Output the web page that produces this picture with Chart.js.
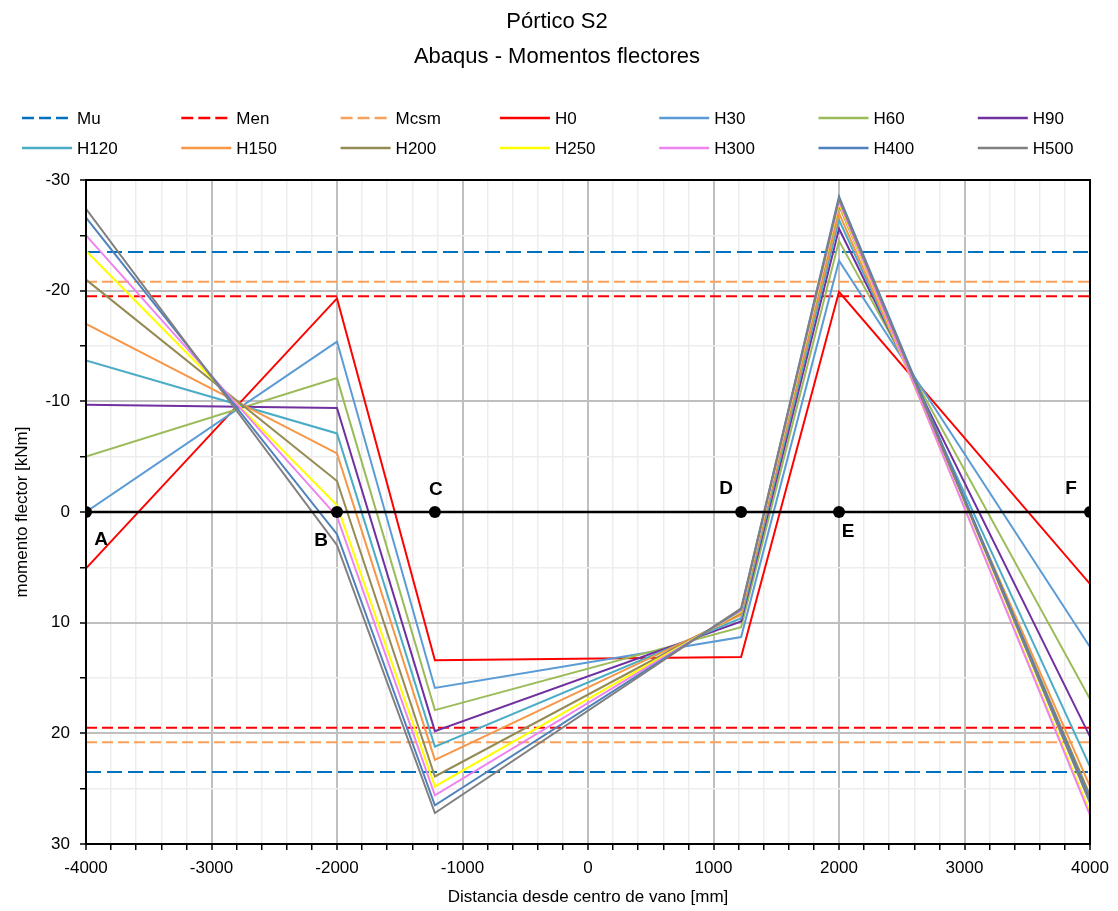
<!DOCTYPE html>
<html>
<head>
<meta charset="utf-8">
<title>Pórtico S2 - Abaqus - Momentos flectores</title>
<script src="https://cdn.jsdelivr.net/npm/chart.js@4.4.1/dist/chart.umd.min.js"></script>
<style>
  html, body { margin: 0; padding: 0; background: #ffffff; }
  #wrap { position: relative; width: 1118px; height: 911px; }
</style>
</head>
<body>
<div id="wrap"><canvas id="grafico" width="1118" height="911"></canvas></div>
<script>
// Secciones del pórtico (distancia desde centro de vano, mm)
const posiciones = [-4000, -2000, -1220, 1220, 2000, 4000];
const nombresPuntos = ['A', 'B', 'C', 'D', 'E', 'F'];

// Momentos flectores [kNm] en cada sección, por nivel de carga
const H0   = [5.1, -19.3, 13.4, 13.1, -19.9, 6.5];
const H30  = [0.0, -15.4, 15.9, 11.3, -22.7, 12.2];
const H60  = [-5.0, -12.1, 17.9, 10.4, -24.5, 16.9];
const H90  = [-9.7, -9.4, 19.8, 9.9, -25.6, 20.3];
const H120 = [-13.7, -7.1, 21.2, 9.6, -26.4, 23.0];
const H150 = [-17.0, -5.3, 22.4, 9.3, -27.0, 24.8];
const H200 = [-21.0, -2.8, 23.9, 9.1, -27.7, 25.6];
const H250 = [-23.6, -0.6, 24.8, 9.0, -27.9, 27.1];
const H300 = [-25.0, 0.4, 25.6, 8.9, -28.1, 27.4];
const H400 = [-26.6, 2.0, 26.5, 8.8, -28.5, 26.0];
const H500 = [-27.4, 3.0, 27.2, 8.7, -28.3, 26.3];

// Momentos resistentes [kNm] (se dibujan con signo + y -)
const Mu = 23.5;
const Men = 19.5;
const Mcsm = 20.8;

// Ejes
const ejeX = [-4000, 4000];
const ejeY = [-30, 30];

const FUENTE = "'Liberation Sans', Arial, sans-serif";

function serie(valores) {
  return posiciones.map((x, i) => ({ x: x, y: valores[i] }));
}
function limite(m) {
  return [
    { x: ejeX[0], y: -m }, { x: ejeX[1], y: -m },
    { x: ejeX[1], y: null },
    { x: ejeX[0], y: m }, { x: ejeX[1], y: m }
  ];
}

const curvas = [
  { label: 'H0',   data: H0,   color: '#ff0000' },
  { label: 'H30',  data: H30,  color: '#5b9bd5' },
  { label: 'H60',  data: H60,  color: '#9bbb59' },
  { label: 'H90',  data: H90,  color: '#7030a0' },
  { label: 'H120', data: H120, color: '#4bacc6' },
  { label: 'H150', data: H150, color: '#f79646' },
  { label: 'H200', data: H200, color: '#948a54' },
  { label: 'H250', data: H250, color: '#ffff00' },
  { label: 'H300', data: H300, color: '#ee82ee' },
  { label: 'H400', data: H400, color: '#4f81bd' },
  { label: 'H500', data: H500, color: '#808080' }
];

const limites = [
  { label: 'Mu',   valor: Mu,   color: '#0070c0', dash: [15, 6] },
  { label: 'Men',  valor: Men,  color: '#ff0000', dash: [11, 5] },
  { label: 'Mcsm', valor: Mcsm, color: '#f9a15a', dash: [11, 5] }
];

const datasets = [];
limites.forEach((l, i) => {
  datasets.push({
    label: l.label, data: limite(l.valor), borderColor: l.color, backgroundColor: l.color,
    borderWidth: 2, borderDash: l.dash, pointRadius: 0, spanGaps: false,
    order: 100 - i, enLeyenda: true
  });
});
curvas.forEach((c, i) => {
  datasets.push({
    label: c.label, data: serie(c.data), borderColor: c.color, backgroundColor: c.color,
    borderWidth: 2, pointRadius: 0, order: 50 - i, enLeyenda: true
  });
});
// Línea del eje de la estructura con los puntos A-F
datasets.push({
  label: 'eje', data: posiciones.map(x => ({ x: x, y: 0 })), borderColor: '#000000',
  backgroundColor: '#000000', borderWidth: 2.5, pointRadius: 6, pointBackgroundColor: '#000000',
  pointBorderWidth: 0, order: 0, enLeyenda: false
});

// Desplazamiento de cada etiqueta respecto a su punto (px)
const desplEtiquetas = [[15, 28], [-16, 29], [1, -22], [-15, -23], [9, 20], [-19, -23]];

const decoracion = {
  id: 'decoracion',
  afterDatasetsDraw(chart) {
    const ctx = chart.ctx;
    const a = chart.chartArea;
    const sx = chart.scales.x, sy = chart.scales.y;
    ctx.save();
    // marco del área de trazado
    ctx.strokeStyle = '#000000';
    ctx.lineWidth = 2;
    ctx.strokeRect(a.left, a.top, a.right - a.left, a.bottom - a.top);
    // etiquetas de los puntos
    ctx.fillStyle = '#000000';
    ctx.font = 'bold 19px ' + FUENTE;
    ctx.textAlign = 'center';
    ctx.textBaseline = 'middle';
    posiciones.forEach((x, i) => {
      const px = sx.getPixelForValue(x), py = sy.getPixelForValue(0);
      ctx.fillText(nombresPuntos[i], px + desplEtiquetas[i][0], py + desplEtiquetas[i][1]);
    });
    ctx.restore();
  },
  afterDraw(chart) {
    const ctx = chart.ctx;
    ctx.save();
    // título
    ctx.fillStyle = '#000000';
    ctx.textAlign = 'center';
    ctx.textBaseline = 'middle';
    ctx.font = '22px ' + FUENTE;
    ctx.fillText('Pórtico S2', 557, 22);
    ctx.fillText('Abaqus - Momentos flectores', 557, 57);
    // leyenda en dos filas de siete columnas
    const items = chart.data.datasets.filter(d => d.enLeyenda);
    ctx.font = '17px ' + FUENTE;
    ctx.textAlign = 'left';
    items.forEach((d, i) => {
      const col = i % 7, fila = Math.floor(i / 7);
      const x0 = 22 + col * 159.3, y0 = 118 + fila * 30;
      ctx.beginPath();
      ctx.strokeStyle = d.borderColor;
      ctx.lineWidth = 2.5;
      ctx.setLineDash(d.borderDash ? [12, 5] : []);
      ctx.moveTo(x0, y0);
      ctx.lineTo(x0 + 50, y0);
      ctx.stroke();
      ctx.setLineDash([]);
      ctx.fillStyle = '#000000';
      ctx.fillText(d.label, x0 + 55, y0 + 1);
    });
    ctx.restore();
  }
};

const esMultiplo = (v, m) => Math.abs(v / m - Math.round(v / m)) < 1e-6;

new Chart(document.getElementById('grafico'), {
  type: 'line',
  data: { datasets: datasets },
  plugins: [decoracion],
  options: {
    responsive: false,
    animation: false,
    events: [],
    layout: { padding: { left: 0, right: 28, top: 180, bottom: 0 } },
    plugins: { legend: { display: false }, title: { display: false }, tooltip: { enabled: false } },
    elements: { line: { tension: 0 } },
    scales: {
      x: {
        type: 'linear', min: ejeX[0], max: ejeX[1],
        afterFit(s) { s.height = 67; },
        ticks: {
          stepSize: 200, autoSkip: false, maxRotation: 0, padding: 8,
          color: '#000000', font: { family: FUENTE, size: 17 },
          callback: v => esMultiplo(v, 1000) ? String(v) : ''
        },
        grid: {
          color: c => esMultiplo(c.tick.value, 1000) ? '#bfbfbf' : '#ededed',
          lineWidth: c => esMultiplo(c.tick.value, 1000) ? 2 : 1.5,
          tickColor: '#000000', tickLength: 6, tickWidth: 1.5
        },
        border: { color: '#000000', width: 2 },
        title: {
          display: true, text: 'Distancia desde centro de vano [mm]', color: '#000000',
          font: { family: FUENTE, size: 17 }, padding: { top: 0, bottom: 3 }
        }
      },
      y: {
        type: 'linear', min: ejeY[0], max: ejeY[1], reverse: true,
        afterFit(s) { s.width = 86; },
        ticks: {
          stepSize: 5, autoSkip: false, padding: 10,
          color: '#000000', font: { family: FUENTE, size: 17 },
          callback: v => esMultiplo(v, 10) ? String(v) : ''
        },
        grid: {
          color: c => esMultiplo(c.tick.value, 10) ? '#bfbfbf' : '#ededed',
          lineWidth: c => esMultiplo(c.tick.value, 10) ? 2 : 1.5,
          tickColor: '#000000', tickLength: 6, tickWidth: 1.5
        },
        border: { color: '#000000', width: 2 },
        title: {
          display: true, text: 'momento flector [kNm]', color: '#000000',
          font: { family: FUENTE, size: 17 }, padding: { top: 12, bottom: 0 }
        }
      }
    }
  }
});
</script>
</body>
</html>
